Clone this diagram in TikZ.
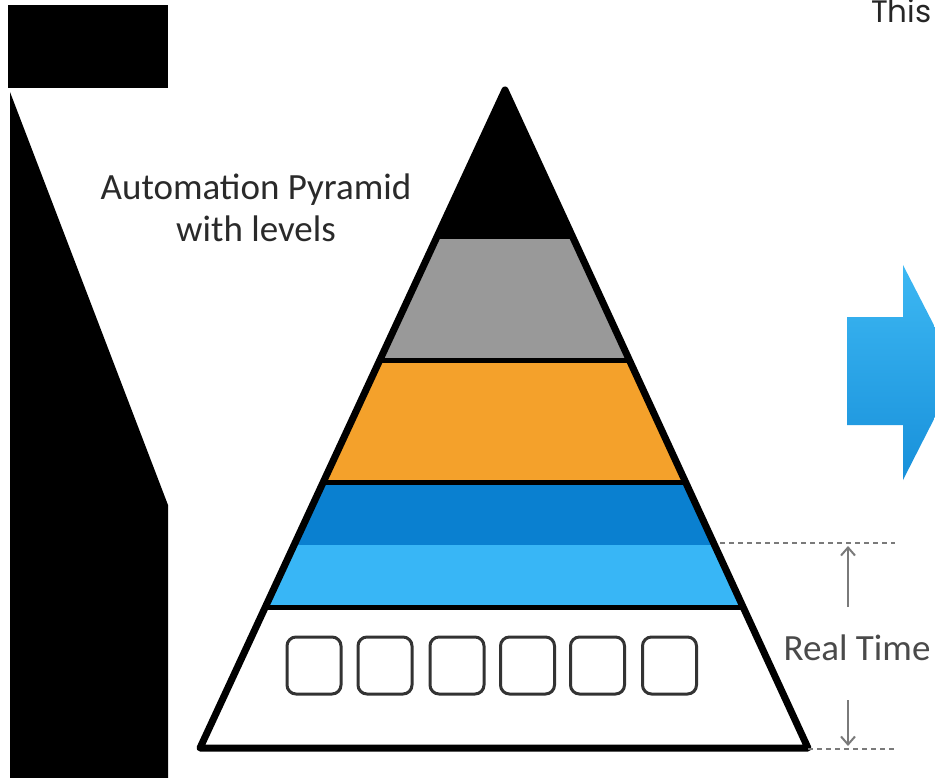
\documentclass[tikz,border=0pt]{standalone}
\usepackage{fontspec}
\setmainfont{Carlito}
\newfontfamily\thisfont{Poppins}
\usetikzlibrary{arrows.meta,calc}
\definecolor{bandgray}{HTML}{999999}
\definecolor{bandorange}{HTML}{F4A12B}
\definecolor{banddarkblue}{HTML}{0A80D0}
\definecolor{bandlightblue}{HTML}{38B6F6}
\definecolor{boxline}{HTML}{333333}
\definecolor{labeltext}{HTML}{2A2A2A}
\definecolor{rtgray}{HTML}{7A7A7A}
\definecolor{rttext}{HTML}{4A4A4A}
\definecolor{arrowtop}{HTML}{3DB8F3}
\definecolor{arrowbottom}{HTML}{1890DA}
\begin{document}
\begin{tikzpicture}[x=1pt,y=-1pt,
  levelbox/.style={draw=boxline,line width=3pt,rounded corners=9pt,minimum width=54pt,minimum height=57pt,inner sep=0pt},
  bandline/.style={line width=5pt,black},
  guide/.style={rtgray,line width=1.6pt,dash pattern=on 5pt off 4pt},
  rtarrow/.style={rtgray,line width=2pt,-{Straight Barb[length=8pt,width=14pt,line width=2pt]}},
  bigtext/.style={font=\fontsize{37}{42}\selectfont,inner sep=0pt}]
\useasboundingbox (0,0) rectangle (935,778);
% left black shapes
\fill[black] (8,5) rectangle (168,88);
\fill[black] (10,92) -- (168,505) -- (168,778) -- (10,778) -- cycle;
% pyramid
\coordinate (apex) at (505,90);
\coordinate (bl) at (200,748);
\coordinate (br) at (808,748);
\begin{scope}
  \clip (apex) -- (bl) -- (br) -- cycle;
  \fill[black] (150,60) rectangle (860,237);
  \fill[bandgray] (150,237) rectangle (860,360);
  \fill[bandorange] (150,360) rectangle (860,482);
  \fill[banddarkblue] (150,482) rectangle (860,545);
  \fill[bandlightblue] (150,545) rectangle (860,607);
  \fill[white] (150,607) rectangle (860,760);
  \draw[bandline] (150,237) -- (860,237);
  \draw[bandline] (150,360) -- (860,360);
  \draw[bandline] (150,482) -- (860,482);
  \draw[bandline] (150,607) -- (860,607);
\end{scope}
\draw[line width=7pt,line join=round] (apex) -- (bl) -- (br) -- cycle;
% bottom level boxes
\foreach \i/\cx in {1/314,2/385,3/457,4/527.5,5/597.5,6/669.5}
  \node[levelbox] (box\i) at (\cx,665.5) {};
% title
\node[bigtext,labeltext,align=center] (title) at (256,208) {Automation Pyramid\\with levels};
% blue block arrow
\shade[top color=arrowtop,bottom color=arrowbottom]
  (847,317) -- (903,317) -- (903,265) -- (958,372) -- (903,480) -- (903,425) -- (847,425) -- cycle;
% real time marker
\coordinate (gtl) at (720,543);
\coordinate (gtr) at (895,543);
\coordinate (gbl) at (808,749);
\coordinate (gbr) at (895,749);
\draw[guide] (gtl) -- (gtr);
\draw[guide] (gbl) -- (gbr);
\node[bigtext,rttext] (rt) at (857,648) {Real Time};
\coordinate (uptip) at (848,546);
\coordinate (downtip) at (848,746);
\draw[rtarrow] (848,607) -- (uptip);
\draw[rtarrow] (848,700) -- (downtip);
% cut-off text
\node[font=\thisfont\fontsize{31}{36}\selectfont,anchor=base west,inner sep=0pt,black!85] (this) at (871,23) {This};
\end{tikzpicture}
\end{document}
